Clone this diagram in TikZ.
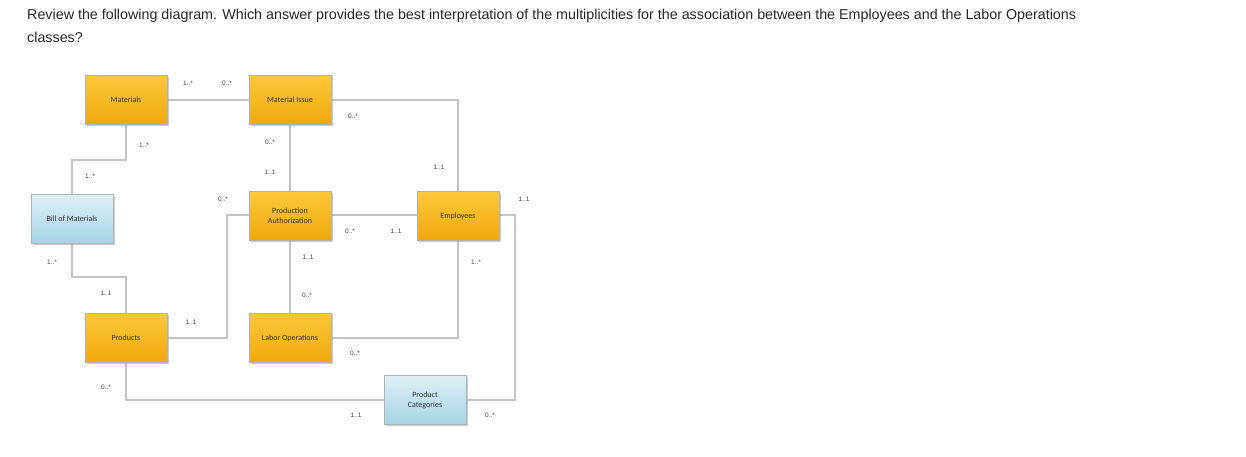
\documentclass[tikz,border=0pt]{standalone}
\usepackage{fontspec}
\setmainfont{Liberation Sans}
\newfontfamily\boxfont{Carlito}
\usetikzlibrary{shadows}
\definecolor{otop}{RGB}{252,200,60}
\definecolor{obot}{RGB}{240,168,10}
\definecolor{btop}{RGB}{222,240,247}
\definecolor{bbot}{RGB}{165,212,230}
\definecolor{lgray}{RGB}{196,196,196}
\definecolor{ttext}{RGB}{40,40,40}
\tikzset{
 ent/.style={draw=black!30, line width=0.4pt, minimum width=82pt, minimum height=49pt, align=center,
   font=\boxfont\fontsize{8}{10}\selectfont, text=black!80, drop shadow={shadow xshift=1.5pt,shadow yshift=-1.5pt,opacity=0.4}},
 org/.style={ent, top color=otop, bottom color=obot},
 blu/.style={ent, top color=btop, bottom color=bbot},
 conn/.style={draw=lgray, line width=1.8pt},
 mult/.style={font=\fontsize{6.5}{7}\selectfont, text=black!75}
}
\begin{document}
\begin{tikzpicture}[x=1pt,y=-1pt]
\useasboundingbox (0,0) rectangle (1246,456);
\node[anchor=west, font=\fontsize{14.3}{16}\selectfont, text=ttext, inner sep=0] (t1) at (27,16) {Review the following diagram. Which answer provides the best interpretation of the multiplicities for the association between the Employees and the Labor Operations};
\node[anchor=west, font=\fontsize{14.3}{16}\selectfont, text=ttext, inner sep=0] (t2) at (27,37) {classes?};

\coordinate (c1) at (126,160); \coordinate (c2) at (72,160);
\coordinate (c3) at (72,277); \coordinate (c4) at (126,277);
\coordinate (c5) at (227,338); \coordinate (c6) at (227,215);
\coordinate (c7) at (458,100); \coordinate (c8) at (458,338);
\coordinate (c9) at (515,215); \coordinate (c10) at (515,400);
\coordinate (c11) at (126,400);

\draw[conn] (126,100) -- (290,100);
\draw[conn] (126,100) -- (c1) -- (c2) -- (72,219);
\draw[conn] (72,219) -- (c3) -- (c4) -- (126,338);
\draw[conn] (126,338) -- (c5) -- (c6) -- (290,215);
\draw[conn] (290,100) -- (290,338);
\draw[conn] (290,100) -- (c7) -- (458,215);
\draw[conn] (290,215) -- (458,215);
\draw[conn] (290,338) -- (c8) -- (458,215);
\draw[conn] (458,215) -- (c9) -- (c10) -- (425,400);
\draw[conn] (126,338) -- (c11) -- (425,400);

\node[org] (mat) at (126,100) {Materials};
\node[org] (mi) at (290,100) {Material Issue};
\node[blu] (bom) at (72,219) {Bill of Materials};
\node[org] (pa) at (290,216) {Production\\Authorization};
\node[org] (emp) at (458,216) {Employees};
\node[org] (prod) at (126,338) {Products};
\node[org] (lo) at (290,338) {Labor Operations};
\node[blu] (pc) at (425,400) {Product\\Categories};

\node[mult] (m1) at (188,83) {1..*};
\node[mult] (m2) at (227,83) {0..*};
\node[mult] (m3) at (144,145) {1..*};
\node[mult] (m4) at (90,176) {1..*};
\node[mult] (m5) at (353,116) {0..*};
\node[mult] (m6) at (270,142) {0..*};
\node[mult] (m7) at (270,172) {1..1};
\node[mult] (m8) at (439,167) {1..1};
\node[mult] (m9) at (223,199) {0..*};
\node[mult] (m10) at (524,199) {1..1};
\node[mult] (m11) at (350,231) {0..*};
\node[mult] (m12) at (396,231) {1..1};
\node[mult] (m13) at (52,262) {1..*};
\node[mult] (m14) at (308,257) {1..1};
\node[mult] (m15) at (476,262) {1..*};
\node[mult] (m16) at (106,293) {1..1};
\node[mult] (m17) at (307,295) {0..*};
\node[mult] (m18) at (191,322) {1..1};
\node[mult] (m19) at (355,353) {0..*};
\node[mult] (m20) at (106,387) {0..*};
\node[mult] (m21) at (356,415) {1..1};
\node[mult] (m22) at (490,415) {0..*};
\end{tikzpicture}
\end{document}
